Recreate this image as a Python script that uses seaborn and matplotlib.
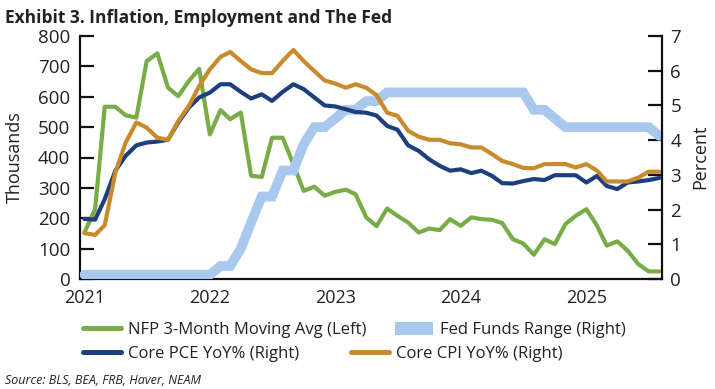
import pandas as pd
import matplotlib
matplotlib.use("Agg")
import matplotlib.pyplot as plt
from matplotlib.lines import Line2D
from matplotlib.patches import Patch
import seaborn as sns

# monthly data, Jan 2021 - Aug 2025
months = pd.date_range("2021-01-01", "2025-08-01", freq="MS")

# NFP 3-month moving average, thousands (left axis)
nfp_3mma = [153, 230, 567, 567, 539, 531, 717, 743, 630, 602, 652, 692,
            476, 556, 526, 548, 340, 336, 465, 465, 378, 290, 304, 274,
            287, 294, 279, 203, 174, 232, 208, 186, 153, 166, 161, 197,
            175, 203, 197, 195, 184, 131, 117, 80, 131, 115, 181, 208,
            230, 175, 110, 124, 93, 49, 25, 25]

# Core PCE YoY %, right axis
core_pce = [1.73, 1.71, 2.30, 3.12, 3.55, 3.85, 3.93, 3.96, 4.01, 4.51, 4.94, 5.23,
            5.37, 5.61, 5.61, 5.39, 5.20, 5.32, 5.13, 5.39, 5.61, 5.47, 5.23, 5.00,
            4.97, 4.89, 4.81, 4.79, 4.71, 4.41, 4.30, 3.85, 3.69, 3.45, 3.26, 3.12,
            3.16, 3.05, 3.12, 2.97, 2.76, 2.75, 2.82, 2.88, 2.85, 2.99, 2.99, 2.99,
            2.78, 2.97, 2.68, 2.59, 2.78, 2.81, 2.85, 2.91]

# Core CPI YoY %, right axis
core_cpi = [1.32, 1.27, 1.55, 3.07, 3.93, 4.51, 4.36, 4.07, 4.01, 4.55, 4.99, 5.56,
            6.04, 6.40, 6.54, 6.28, 6.04, 5.93, 5.93, 6.28, 6.60, 6.28, 5.99, 5.72,
            5.63, 5.51, 5.61, 5.51, 5.30, 4.79, 4.70, 4.27, 4.10, 4.01, 4.01, 3.91,
            3.88, 3.79, 3.79, 3.60, 3.40, 3.31, 3.20, 3.19, 3.31, 3.31, 3.31, 3.21,
            3.31, 3.12, 2.81, 2.81, 2.81, 2.92, 3.09, 3.09]

# Fed funds target range, lower bound %, right axis
fed_lower = [0, 0, 0, 0, 0, 0, 0, 0, 0, 0, 0, 0,
             0, 0.25, 0.25, 0.75, 1.5, 2.25, 2.25, 3.0, 3.0, 3.75, 4.25, 4.25,
             4.5, 4.75, 4.75, 5.0, 5.0, 5.25, 5.25, 5.25, 5.25, 5.25, 5.25, 5.25,
             5.25, 5.25, 5.25, 5.25, 5.25, 5.25, 5.25, 4.75, 4.75, 4.5, 4.25, 4.25,
             4.25, 4.25, 4.25, 4.25, 4.25, 4.25, 4.25, 4.0]
range_width = 0.25

years = ["2021", "2022", "2023", "2024", "2025"]

green = "#78ac46"
navy = "#1d3f7e"
orange = "#c98a2b"
light_blue = "#a9c8ee"
text_col = "#222222"

sns.set_style("white")
plt.rcParams["font.family"] = ["Open Sans", "DejaVu Sans"]

fig = plt.figure(figsize=(7.15, 3.89), dpi=100)
ax = fig.add_axes([80 / 715, 1 - 279 / 389, 582 / 715, 243 / 389])
ax2 = ax.twinx()

# band drawn as a thick line through the middle of the target range
fed_mid = [lo + range_width / 2 for lo in fed_lower]
sns.lineplot(x=months, y=fed_mid, ax=ax2, color=light_blue, linewidth=7,
             solid_joinstyle="miter", legend=False)
sns.lineplot(x=months, y=core_pce, ax=ax2, color=navy, linewidth=3, legend=False)
sns.lineplot(x=months, y=core_cpi, ax=ax2, color=orange, linewidth=3, legend=False)
sns.lineplot(x=months, y=nfp_3mma, ax=ax, color=green, linewidth=3, legend=False)

ax.set_ylim(0, 800)
ax2.set_ylim(0, 7)
ax.set_yticks(range(0, 801, 100))
ax2.set_yticks(range(0, 8))
ax.set_xlim(pd.Timestamp("2020-12-19"), pd.Timestamp("2025-08-09"))
ax.set_xticks([pd.Timestamp(y + "-01-01") for y in years])
ax.set_xticklabels(years)
ax.set_xlabel("")
ax.set_ylabel("")
ax2.set_ylabel("")

for a in (ax, ax2):
    a.spines["top"].set_visible(False)
    for s in a.spines.values():
        s.set_linewidth(1.6)
        s.set_color("#111111")
ax2.spines["left"].set_visible(False)
ax2.spines["bottom"].set_visible(False)
ax.spines["right"].set_visible(False)

ax.tick_params(axis="y", direction="in", length=10, width=1.6, pad=7,
               labelsize=13.5, labelcolor=text_col, color="#111111")
ax.tick_params(axis="x", length=0, pad=7, labelsize=13, labelcolor=text_col)
ax2.tick_params(axis="y", direction="in", length=10, width=1.6, pad=6,
                labelsize=13.5, labelcolor=text_col, color="#111111")

fig.text(15 / 715, 1 - 157 / 389, "Thousands", rotation=90, ha="center",
         va="center", fontsize=13, color=text_col)
fig.text(700 / 715, 1 - 157 / 389, "Percent", rotation=90, ha="center",
         va="center", fontsize=13, color=text_col)

fig.text(5 / 715, 1 - 23 / 389, "Exhibit 3. Inflation, Employment and The Fed",
         fontsize=12.5, fontweight="bold", color=text_col, va="baseline")
fig.text(5 / 715, 1 - 384 / 389, "Source: BLS, BEA, FRB, Haver, NEAM",
         fontsize=9, style="italic", color=text_col, va="baseline")

# legend entries placed one by one
entries = [
    (Line2D([], [], color=green, lw=3.6), "NFP 3-Month Moving Avg (Left)", 83, 330),
    (Patch(facecolor=light_blue, edgecolor="none"), "Fed Funds Range (Right)", 395, 330),
    (Line2D([], [], color=navy, lw=3.6), "Core PCE YoY% (Right)", 83, 354),
    (Line2D([], [], color=orange, lw=3.6), "Core CPI YoY% (Right)", 351, 354),
]
for handle, label, x, y in entries:
    fig.legend([handle], [label], loc="center left",
               bbox_to_anchor=(x / 715, 1 - y / 389), frameon=False,
               fontsize=12, borderpad=0, borderaxespad=0, handlelength=2.3,
               handleheight=0.8, handletextpad=0.4, labelcolor=text_col)

fig.savefig("out.png", dpi=100)
